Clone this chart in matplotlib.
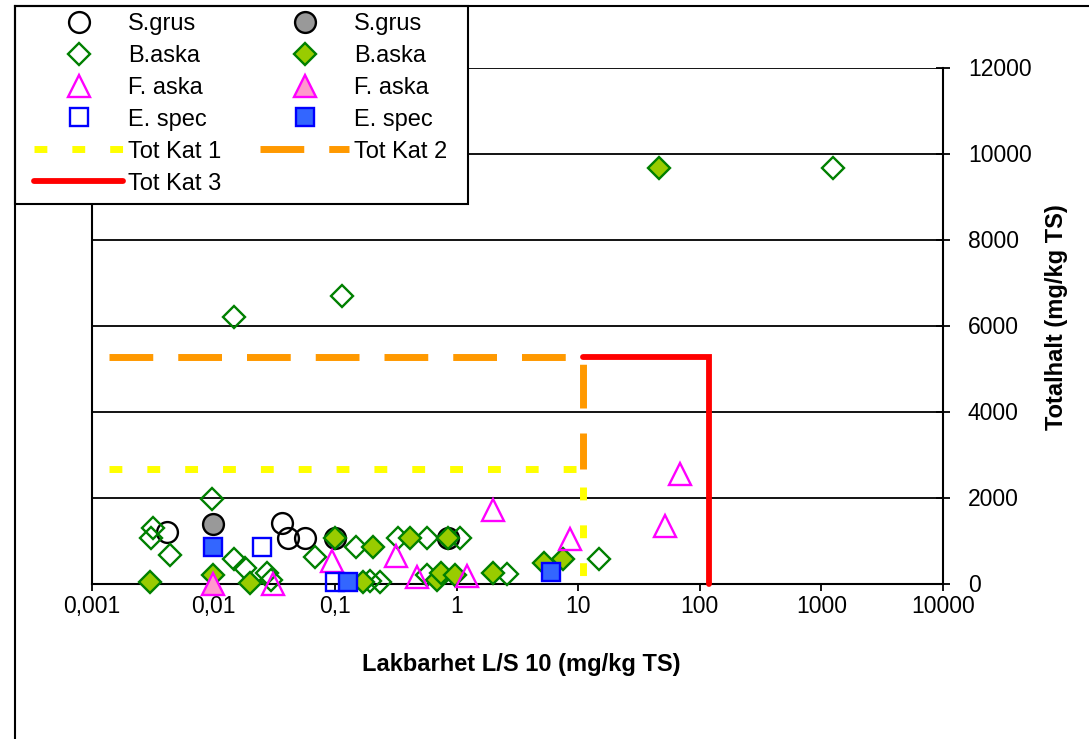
import matplotlib
matplotlib.use('Agg')
import matplotlib.pyplot as plt
from matplotlib.lines import Line2D
from matplotlib.patches import Rectangle
from matplotlib.ticker import FixedLocator, NullLocator

plt.rcParams['font.family'] = ['Liberation Sans', 'DejaVu Sans']

# --- data ---
sgrus_open_x = [0.0042, 0.037, 0.041, 0.057]
sgrus_open_y = [1200, 1400, 1050, 1050]
sgrus_fill_x = [0.01, 0.1, 0.85]
sgrus_fill_y = [1380, 1050, 1050]

baska_open_x = [0.0032, 0.0031, 0.0044, 0.0098, 0.0148, 0.0182, 0.0275, 0.030,
                0.0148, 0.115, 0.0686, 0.149, 0.194, 0.235, 0.332, 0.569, 1.07,
                0.57, 2.59, 14.9, 1255]
baska_open_y = [1300, 1050, 660, 1970, 570, 350, 240, 80,
                6200, 6680, 620, 850, 50, 40, 1050, 1050, 1050,
                200, 220, 560, 9670]
baska_fill_x = [0.003, 0.01, 0.02, 0.1, 0.171, 0.205, 0.414, 0.69, 0.75, 0.85,
                0.97, 2.0, 5.2, 7.55, 46.5]
baska_fill_y = [40, 200, 5, 1050, 40, 850, 1050, 80, 235, 1050,
                200, 240, 470, 560, 9670]

faska_open_x = [0.031, 0.095, 0.318, 0.471, 1.21, 2.01, 8.6, 52, 69]
faska_open_y = [0, 520, 650, 140, 170, 1700, 1040, 1330, 2540]
faska_fill_x = [0.01]
faska_fill_y = [0]

espec_open_x = [0.025, 0.1]
espec_open_y = [850, 40]
espec_fill_x = [0.01, 0.129, 6.0]
espec_fill_y = [850, 40, 270]

kat1_x = [0.0014, 11, 11]
kat1_y = [2660, 2660, 0]
kat2_x = [0.0014, 11, 11]
kat2_y = [5260, 5260, 2660]
kat3_x = [11, 120, 120]
kat3_y = [5260, 5260, 0]

xticks = [0.001, 0.01, 0.1, 1, 10, 100, 1000, 10000]
xtick_labels = ['0,001', '0,01', '0,1', '1', '10', '100', '1000', '10000']
yticks = [0, 2000, 4000, 6000, 8000, 10000, 12000]

W, H = 1089, 739
fig = plt.figure(figsize=(W / 100, H / 100), dpi=100)
ax = fig.add_axes([91.7 / W, 1 - 583.5 / H, (943 - 91.7) / W, (583.5 - 67.5) / H])

mew = 1.7
styles = {
    'so': dict(marker='o', ms=15, mfc='none', mec='black'),
    'sf': dict(marker='o', ms=15, mfc='#999999', mec='black'),
    'bo': dict(marker='D', ms=11, mfc='none', mec='#008000'),
    'bf': dict(marker='D', ms=11, mfc='#99CC00', mec='#008000'),
    'fo': dict(marker='^', ms=15.5, mfc='none', mec='#FF00FF'),
    'ff': dict(marker='^', ms=15.5, mfc='#FF99CC', mec='#FF00FF'),
    'eo': dict(marker='s', ms=13, mfc='none', mec='#0000FF'),
    'ef': dict(marker='s', ms=13, mfc='#3366FF', mec='#0000FF'),
}

series = [
    ('so', sgrus_open_x, sgrus_open_y, 'S.grus'),
    ('sf', sgrus_fill_x, sgrus_fill_y, 'S.grus'),
    ('bo', baska_open_x, baska_open_y, 'B.aska'),
    ('bf', baska_fill_x, baska_fill_y, 'B.aska'),
    ('fo', faska_open_x, faska_open_y, 'F. aska'),
    ('ff', faska_fill_x, faska_fill_y, 'F. aska'),
    ('eo', espec_open_x, espec_open_y, 'E. spec'),
    ('ef', espec_fill_x, espec_fill_y, 'E. spec'),
]
handles = {}
for key, xs, ys, lab in series:
    h, = ax.plot(xs, ys, linestyle='none', mew=mew, clip_on=False, zorder=3,
                 label=lab, **styles[key])
    handles[key] = h

lw = 5
k1, = ax.plot(kat1_x, kat1_y, color='#FFFF00', lw=lw, dashes=(1.85, 3.6),
              dash_capstyle='butt', clip_on=False, zorder=4, label='Tot Kat 1')
k2, = ax.plot(kat2_x, kat2_y, color='#FF9900', lw=lw, dashes=(6.3, 3.6),
              dash_capstyle='butt', clip_on=False, zorder=4, label='Tot Kat 2')
k3, = ax.plot(kat3_x, kat3_y, color='#FF0000', lw=4.2, solid_capstyle='round',
              solid_joinstyle='miter', clip_on=False, zorder=4, label='Tot Kat 3')

ax.set_xscale('log')
ax.set_xlim(0.001, 10000)
ax.set_ylim(0, 12000)
ax.xaxis.set_major_locator(FixedLocator(xticks))
ax.xaxis.set_minor_locator(NullLocator())
ax.set_xticklabels(xtick_labels)
ax.yaxis.tick_right()
ax.set_yticks(yticks)
ax.set_yticklabels([str(v) for v in yticks])
ax.yaxis.grid(True, color='black', lw=1.3)
ax.set_axisbelow(True)

ax.spines['top'].set_visible(False)
for s in ['left', 'right', 'bottom']:
    ax.spines[s].set_linewidth(1.5)
    ax.spines[s].set_color('black')

ax.tick_params(axis='x', direction='out', length=5, width=1.3, pad=3, labelsize=16.5)
ax.tick_params(axis='y', direction='inout', length=10, width=1.3, pad=13,
               labelsize=16.5, right=True, left=False)

fig.text(521 / W, 1 - 664 / H, 'Lakbarhet L/S 10 (mg/kg TS)', ha='center',
         va='center', fontsize=17, fontweight='bold')
fig.text(1056 / W, 1 - 317 / H, 'Totalhalt (mg/kg TS)', rotation=90,
         ha='center', va='center', fontsize=17, fontweight='bold',
         family=['Liberation Sans Narrow', 'Liberation Sans'])

# legend box drawn separately so its padding can differ from the entries
fig.add_artist(Rectangle((15 / W, 1 - 204 / H), (468 - 15) / W, (204 - 6) / H,
                         transform=fig.transFigure, facecolor='white',
                         edgecolor='black', lw=1.5, zorder=4))

order = [handles['so'], handles['bo'], handles['fo'], handles['eo'], k1, k3,
         handles['sf'], handles['bf'], handles['ff'], handles['ef'], k2]
leg = fig.legend(handles=order, labels=[h.get_label() for h in order],
                 loc='upper left', bbox_to_anchor=(34 / W, 1 - 13 / H),
                 bbox_transform=fig.transFigure, ncol=2, fontsize=17,
                 frameon=False, borderaxespad=0, borderpad=0, handlelength=3.77,
                 handletextpad=0.21, columnspacing=1.65, labelspacing=0.42,
                 numpoints=1)
leg.set_zorder(5)

# outer chart border
fig.add_artist(Line2D([15 / W, 15 / W], [0, 1 - 6 / H], color='black', lw=1.5,
                      transform=fig.transFigure, zorder=6))
fig.add_artist(Line2D([15 / W, 1], [1 - 6 / H, 1 - 6 / H], color='black', lw=1.5,
                      transform=fig.transFigure, zorder=6))

fig.savefig('out.png', dpi=100)
